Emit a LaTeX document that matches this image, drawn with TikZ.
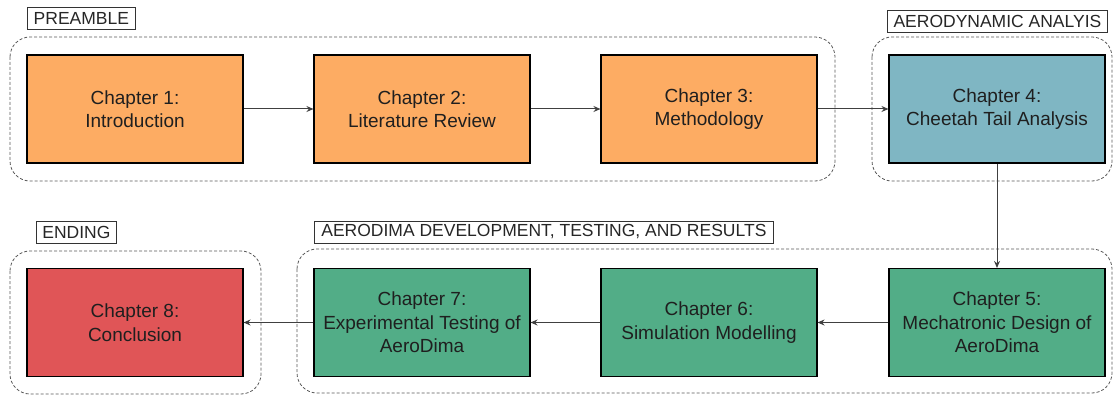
\documentclass[tikz,border=0pt]{standalone}
\usepackage{fontspec}
\setmainfont{Liberation Sans}
\usetikzlibrary{arrows.meta}

\definecolor{introorange}{HTML}{FDAC63}
\definecolor{analysisblue}{HTML}{7FB6C3}
\definecolor{devgreen}{HTML}{52AD87}
\definecolor{endred}{HTML}{E05557}

\tikzset{
  chapter/.style={draw=black, line width=1.1pt, minimum width=216pt, minimum height=108pt,
    align=center, text=black!88, font=\fontsize{19}{23.5}\selectfont, inner sep=0pt},
  grouplabel/.style={draw=black!80, line width=0.8pt, anchor=west, inner sep=0pt,
    minimum height=22pt, text=black!85, font=\fontsize{17.5}{20}\selectfont},
  group/.style={draw=black!65, dash pattern=on 3pt off 2pt, line width=0.8pt, rounded corners=20pt},
  flow/.style={draw=black!75, line width=1pt, -{Stealth[length=7pt,width=6pt]}}
}

\begin{document}
\begin{tikzpicture}[x=1pt,y=-1pt]
\useasboundingbox (0,0) rectangle (1114,398);

% dashed groups
\draw[group] (10,37) rectangle (835,181);
\draw[group] (872,37) rectangle (1112,181);
\draw[group] (10,251) rectangle (261,394);
\draw[group] (297,249) rectangle (1112,393);

% group titles
\node[grouplabel, minimum width=108pt] (preamble) at (27,18) {PREAMBLE};
\node[grouplabel, minimum width=220pt] (aero) at (887,21.5) {AERODYNAMIC ANALYIS};
\node[grouplabel, minimum width=80pt] (ending) at (36,232) {ENDING};
\node[grouplabel, minimum width=459pt] (develop) at (314,232) {AERODIMA DEVELOPMENT, TESTING, AND RESULTS};

% chapters
\node[chapter, fill=introorange] (ch1) at (135,109) {Chapter 1:\\Introduction};
\node[chapter, fill=introorange] (ch2) at (422,109) {Chapter 2:\\Literature Review};
\node[chapter, fill=introorange] (ch3) at (709,109) {Chapter 3:\\Methodology};
\node[chapter, fill=analysisblue] (ch4) at (997,109) {Chapter 4:\\Cheetah Tail Analysis};
\node[chapter, fill=devgreen] (ch5) at (997,322.5) {Chapter 5:\\Mechatronic Design of\\AeroDima};
\node[chapter, fill=devgreen] (ch6) at (709,322.5) {Chapter 6:\\Simulation Modelling};
\node[chapter, fill=devgreen] (ch7) at (422,322.5) {Chapter 7:\\Experimental Testing of\\AeroDima};
\node[chapter, fill=endred] (ch8) at (135,322.5) {Chapter 8:\\Conclusion};

% flow
\draw[flow] (ch1) -- (ch2);
\draw[flow] (ch2) -- (ch3);
\draw[flow] (ch3) -- (ch4);
\draw[flow] (ch4) -- (ch5);
\draw[flow] (ch5) -- (ch6);
\draw[flow] (ch6) -- (ch7);
\draw[flow] (ch7) -- (ch8);
\end{tikzpicture}
\end{document}
